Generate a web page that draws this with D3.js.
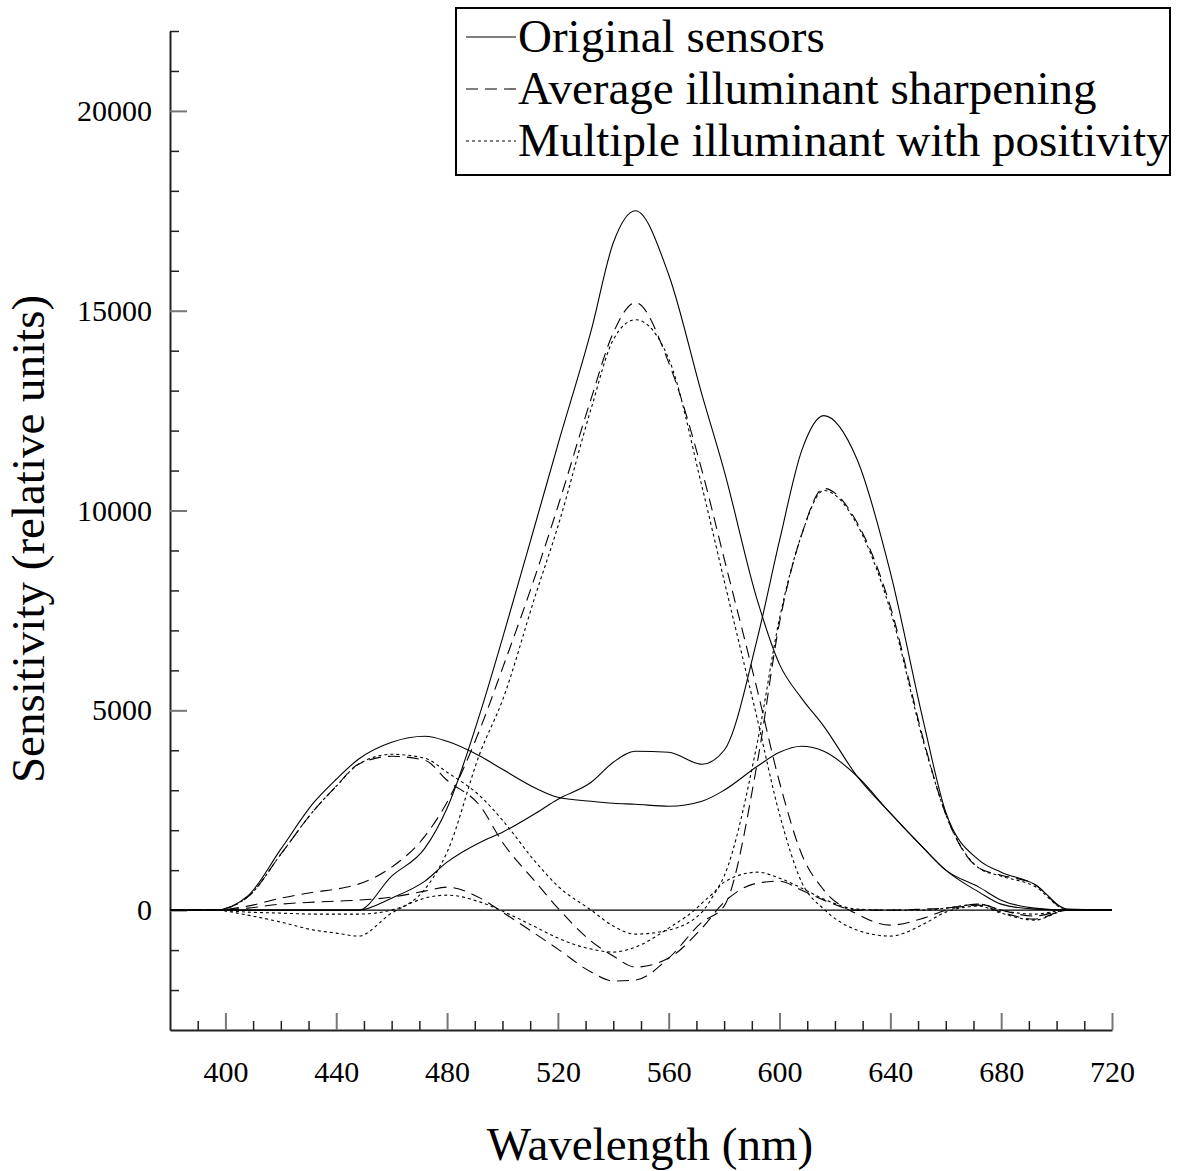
<!DOCTYPE html>
<html>
<head>
<meta charset="utf-8">
<script src="https://cdn.jsdelivr.net/npm/d3@7"></script>
<style>
body { margin: 0; background: #fff; }
text { font-family: "Liberation Serif", "Times New Roman", serif; fill: #000; }
</style>
</head>
<body>
<script>
// wavelength samples (nm)
var wavelengths = [380, 396, 408, 420, 432, 440, 448, 460, 472, 480, 492, 500, 512, 520, 532, 540, 548,
                   560, 572, 580, 592, 600, 608, 616, 628, 640, 652, 660, 672, 680, 692, 704, 720];

// original sensors (solid)
var blueOrig  = [0, 0, 350, 1525, 2700, 3275, 3775, 4200, 4350, 4225, 3850, 3525, 3050, 2825, 2725, 2675, 2650,
                 2600, 2725, 3000, 3600, 3950, 4100, 3975, 3350, 2425, 1550, 1000, 575, 250, 50, 0, 0];
var greenOrig = [0, 0, 0, 0, 0, 0, 0, 850, 1550, 2550, 4950, 6800, 9700, 11650, 14500, 16700, 17500,
                 15900, 12900, 11000, 7750, 6150, 5300, 4600, 3350, 2425, 1550, 1000, 450, 150, 25, 0, 0];
var redOrig   = [0, 0, 0, 0, 0, 0, 0, 300, 725, 1200, 1700, 1950, 2425, 2775, 3200, 3700, 3975,
                 3950, 3650, 4000, 6800, 9250, 11500, 12375, 11275, 8450, 4700, 2450, 1250, 950, 650, 25, 0];

// average illuminant sharpening (dashed)
var blueAvg  = [0, 0, 325, 1400, 2500, 3100, 3650, 3850, 3750, 3250, 2600, 1700, 700, 50, -775, -1150, -1425,
                -1200, -450, 200, 675, 725, 500, 250, 0, 0, 25, 50, 150, 0, -150, 0, 0];
var greenAvg = [0, 0, 100, 300, 450, 525, 650, 1075, 1850, 2700, 4550, 6050, 8400, 10100, 12800, 14450, 15200,
                13700, 11000, 8800, 5500, 3200, 1400, 500, -100, -375, -200, 0, 125, -50, -225, 0, 0];
var redAvg   = [0, 0, 50, 150, 200, 225, 250, 325, 475, 575, 300, -50, -600, -975, -1550, -1775, -1750,
                -1200, -300, 100, 3700, 7200, 9400, 10550, 9700, 7600, 4250, 2400, 1050, 875, 650, 0, 0];

// multiple illuminant with positivity (dotted)
var blueMulti  = [0, 0, 325, 1400, 2500, 3100, 3650, 3900, 3800, 3450, 2850, 2250, 1200, 600, 0, -400, -600,
                  -500, -50, 700, 950, 800, 550, 275, 25, 0, 0, 50, 150, 0, -100, 0, 0];
var greenMulti = [0, 0, -50, -75, -100, -100, -100, 0, 525, 1450, 3950, 5250, 7900, 9600, 12550, 14275, 14775,
                  13800, 10600, 8250, 4775, 2400, 700, 25, -500, -650, -350, -50, 100, -75, -250, 0, 0];
var redMulti   = [0, 0, -125, -300, -500, -575, -650, -75, 300, 375, 200, -25, -425, -700, -975, -1050, -925,
                  -450, 175, 850, 4200, 7300, 9400, 10500, 9650, 7500, 4200, 2400, 1050, 850, 600, 0, 0];

var xMajor = [400, 440, 480, 520, 560, 600, 640, 680, 720];
var yMajor = [0, 5000, 10000, 15000, 20000];
var legendLabels = ["Original sensors", "Average illuminant sharpening", "Multiple illuminant with positivity"];

var styles = ["none", "12,7", "3,3"];
var groups = [
  [blueOrig, greenOrig, redOrig],
  [blueAvg, greenAvg, redAvg],
  [blueMulti, greenMulti, redMulti]
];

var W = 1184, H = 1171;
var svg = d3.select("body").append("svg").attr("width", W).attr("height", H);

var x = d3.scaleLinear().domain([380, 720]).range([170, 1112]);
var y = d3.scaleLinear().domain([-3000, 22000]).range([1030, 31]);

// minor ticks
var xMinor = d3.range(390, 720, 10).filter(function(d){ return xMajor.indexOf(d) < 0; });
var yMinor = d3.range(-2000, 22001, 1000).filter(function(d){ return yMajor.indexOf(d) < 0; });

var gx = svg.append("g").attr("transform", "translate(0,1030)");
gx.call(d3.axisBottom(x).tickValues(xMinor).tickSize(-9).tickSizeOuter(0).tickFormat(""));
gx.selectAll(".tick line").attr("stroke", "#222").attr("stroke-width", 1.5);
gx.select(".domain").attr("stroke", "#222").attr("stroke-width", 2);
var gx2 = svg.append("g").attr("transform", "translate(0,1030)");
gx2.call(d3.axisBottom(x).tickValues(xMajor).tickSize(-17).tickSizeOuter(0).tickPadding(31).tickFormat(d3.format("d")));
gx2.select(".domain").remove();
gx2.selectAll(".tick line").attr("stroke", "#777").attr("stroke-width", 2);
gx2.selectAll("text").attr("font-size", 30).attr("font-family", "Liberation Serif");

var gy = svg.append("g").attr("transform", "translate(170,0)");
gy.call(d3.axisLeft(y).tickValues(yMinor).tickSize(-9).tickSizeOuter(0).tickFormat(""));
gy.selectAll(".tick line").attr("stroke", "#222").attr("stroke-width", 1.5);
gy.select(".domain").attr("stroke", "#222").attr("stroke-width", 2);
var gy2 = svg.append("g").attr("transform", "translate(170,0)");
gy2.call(d3.axisLeft(y).tickValues(yMajor).tickSize(-17).tickSizeOuter(0).tickPadding(18).tickFormat(d3.format("d")));
gy2.select(".domain").remove();
gy2.selectAll(".tick line").attr("stroke", "#777").attr("stroke-width", 2);
gy2.selectAll("text").attr("font-size", 30).attr("font-family", "Liberation Serif");

// zero line
svg.append("line")
  .attr("x1", x(380)).attr("x2", x(720))
  .attr("y1", y(0)).attr("y2", y(0))
  .attr("stroke", "#000").attr("stroke-width", 1.2);

var line = d3.line()
  .x(function(d, i){ return x(wavelengths[i]); })
  .y(function(d){ return y(d); })
  .curve(d3.curveMonotoneX);

groups.forEach(function(g, k){
  g.forEach(function(series){
    svg.append("path")
      .attr("d", line(series))
      .attr("fill", "none")
      .attr("stroke", "#000")
      .attr("stroke-width", 1.1)
      .attr("stroke-dasharray", styles[k]);
  });
});

// axis titles
svg.append("text")
  .attr("x", 650).attr("y", 1160)
  .attr("text-anchor", "middle")
  .attr("font-size", 47)
  .text("Wavelength (nm)");
svg.append("text")
  .attr("transform", "translate(44,539) rotate(-90)")
  .attr("text-anchor", "middle")
  .attr("font-size", 47)
  .text("Sensitivity (relative units)");

// legend
var lg = svg.append("g");
lg.append("rect")
  .attr("x", 456).attr("y", 8).attr("width", 714).attr("height", 167)
  .attr("fill", "#fff").attr("stroke", "#000").attr("stroke-width", 2);
legendLabels.forEach(function(t, i){
  var by = 52 + i * 52;
  lg.append("line")
    .attr("x1", 466).attr("x2", 516)
    .attr("y1", by - 15).attr("y2", by - 15)
    .attr("stroke", "#000").attr("stroke-width", 1.1)
    .attr("stroke-dasharray", styles[i]);
  lg.append("text")
    .attr("x", 518).attr("y", by)
    .attr("font-size", 47)
    .text(t);
});
</script>
</body>
</html>
